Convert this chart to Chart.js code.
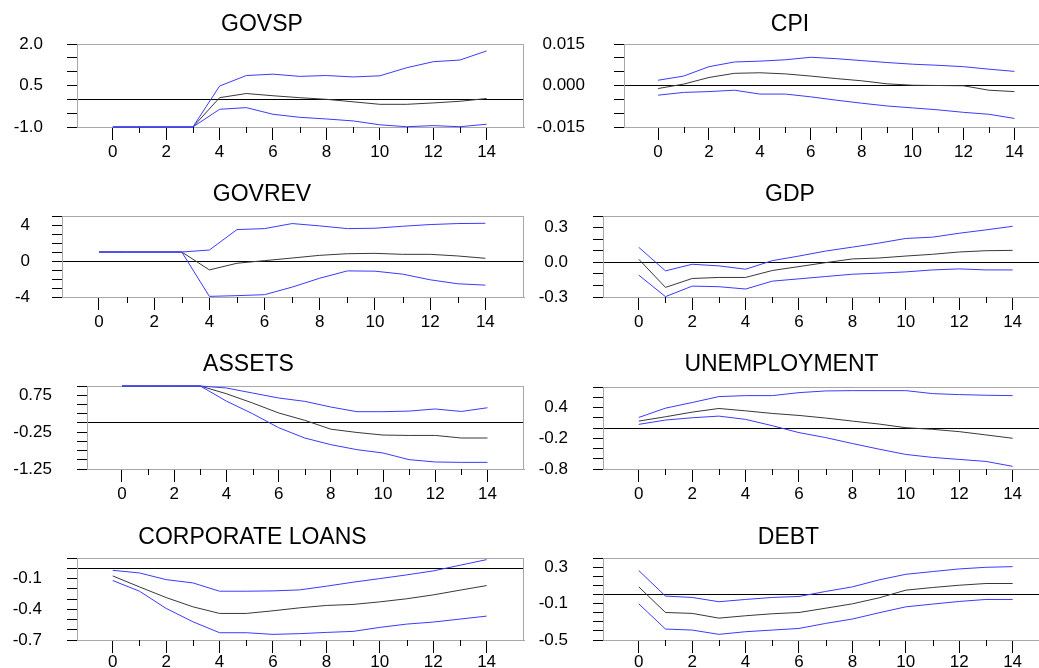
<!DOCTYPE html>
<html><head><meta charset="utf-8">
<script src="https://cdn.jsdelivr.net/npm/chart.js@4.4.1/dist/chart.umd.min.js"></script>
<style>
html,body{margin:0;padding:0;background:#fff;overflow:hidden;}
#wrap{position:relative;width:1039px;height:668px;overflow:hidden;background:#fff;}
canvas{position:absolute;}
.title{position:absolute;font-family:"Liberation Sans",Arial,sans-serif;font-size:23px;line-height:23px;color:#000;white-space:nowrap;transform:translateX(-50%);}
</style></head><body><div id="wrap"></div>
<script>
// ---------- DATA ----------
const periods = [0,1,2,3,4,5,6,7,8,9,10,11,12,13,14];
const xTickLabels = ['0','','2','','4','','6','','8','','10','','12','','14'];

const govspResp  = [-1.0,-1.0,-1.0,-1.0,0.06,0.21,0.13,0.06,0.0,-0.09,-0.18,-0.18,-0.13,-0.07,0.03];
const govspUpper = [-1.0,-1.0,-1.0,-1.0,0.48,0.86,0.91,0.83,0.86,0.81,0.85,1.14,1.36,1.42,1.75];
const govspLower = [-1.0,-1.0,-1.0,-1.0,-0.36,-0.30,-0.54,-0.65,-0.71,-0.78,-0.92,-0.99,-0.95,-0.99,-0.90];
const govspTicks = [-1.0,-0.5,0,0.5,1.0,1.5,2.0];
const govspTickLabels = ['-1.0','','','0.5','','','2.0'];

const cpiResp  = [-0.0011,0.0005,0.0029,0.0044,0.0046,0.0042,0.0034,0.0025,0.0017,0.0006,0.0001,0.0,-0.0001,-0.0017,-0.0022];
const cpiUpper = [0.0019,0.0034,0.0068,0.0085,0.0088,0.0093,0.0102,0.0097,0.0090,0.0083,0.0077,0.0073,0.0068,0.0059,0.0051];
const cpiLower = [-0.0035,-0.0025,-0.0022,-0.0017,-0.0031,-0.0031,-0.0041,-0.0053,-0.0064,-0.0074,-0.0081,-0.0088,-0.0097,-0.0104,-0.0119];
const cpiTicks = [-0.015,-0.010,-0.005,0,0.005,0.010,0.015];
const cpiTickLabels = ['-0.015','','','0.000','','','0.015'];

const govrevResp  = [1.0,1.0,1.0,1.0,-0.99,-0.25,0.04,0.33,0.63,0.81,0.85,0.74,0.74,0.56,0.30];
const govrevUpper = [1.0,1.0,1.0,1.0,1.22,3.49,3.60,4.16,3.90,3.60,3.64,3.86,4.05,4.16,4.19];
const govrevLower = [1.0,1.0,1.0,1.0,-3.93,-3.85,-3.74,-2.90,-1.91,-1.10,-1.13,-1.46,-2.09,-2.53,-2.68];
const govrevTicks = [-4,-3,-2,-1,0,1,2,3,4,5];
const govrevTickLabels = ['-4','','','','0','','','','4',''];

const gdpResp  = [0.026,-0.217,-0.140,-0.131,-0.131,-0.071,-0.037,-0.003,0.029,0.037,0.054,0.069,0.089,0.100,0.103];
const gdpUpper = [0.129,-0.074,-0.017,-0.031,-0.060,0.014,0.054,0.097,0.131,0.166,0.206,0.217,0.251,0.280,0.311];
const gdpLower = [-0.111,-0.297,-0.206,-0.211,-0.231,-0.163,-0.143,-0.123,-0.103,-0.094,-0.083,-0.066,-0.057,-0.066,-0.066];
const gdpTicks = [-0.3,-0.2,-0.1,0,0.1,0.2,0.3,0.4];
const gdpTickLabels = ['-0.3','','','0.0','','','0.3',''];

const assetsResp  = [1.0,1.0,1.0,1.0,0.79,0.54,0.27,0.07,-0.17,-0.26,-0.33,-0.34,-0.34,-0.41,-0.41];
const assetsUpper = [1.0,1.0,1.0,1.0,0.946,0.81,0.675,0.584,0.43,0.304,0.304,0.32,0.377,0.31,0.41];
const assetsLower = [1.0,1.0,1.0,1.0,0.59,0.25,-0.13,-0.41,-0.59,-0.726,-0.816,-0.997,-1.06,-1.07,-1.07];
const assetsTicks = [-1.25,-1.0,-0.75,-0.5,-0.25,0,0.25,0.5,0.75,1.0];
const assetsTickLabels = ['-1.25','','','','-0.25','','','','0.75',''];

const unempResp  = [0.135,0.219,0.310,0.381,0.335,0.284,0.245,0.194,0.135,0.077,0.006,-0.026,-0.071,-0.135,-0.200];
const unempUpper = [0.206,0.387,0.497,0.613,0.632,0.632,0.690,0.723,0.729,0.729,0.729,0.671,0.652,0.639,0.632];
const unempLower = [0.071,0.155,0.200,0.232,0.168,0.045,-0.090,-0.187,-0.303,-0.413,-0.516,-0.574,-0.613,-0.652,-0.748];
const unempTicks = [-0.8,-0.6,-0.4,-0.2,0,0.2,0.4,0.6,0.8];
const unempTickLabels = ['-0.8','','','-0.2','','','0.4','',''];

const corpResp  = [-0.075,-0.182,-0.286,-0.376,-0.441,-0.441,-0.415,-0.386,-0.363,-0.353,-0.328,-0.298,-0.260,-0.214,-0.169];
const corpUpper = [-0.020,-0.046,-0.111,-0.143,-0.224,-0.224,-0.221,-0.211,-0.175,-0.136,-0.101,-0.065,-0.026,0.029,0.084];
const corpLower = [-0.120,-0.224,-0.392,-0.522,-0.629,-0.629,-0.645,-0.638,-0.626,-0.616,-0.577,-0.545,-0.525,-0.496,-0.467];
const corpTicks = [-0.7,-0.6,-0.5,-0.4,-0.3,-0.2,-0.1,0,0.1];
const corpTickLabels = ['-0.7','','','-0.4','','','-0.1','',''];

const debtResp  = [0.083,-0.198,-0.208,-0.260,-0.234,-0.212,-0.198,-0.151,-0.103,-0.037,0.047,0.076,0.101,0.120,0.120];
const debtUpper = [0.262,-0.018,-0.033,-0.080,-0.055,-0.033,-0.022,0.033,0.083,0.160,0.221,0.251,0.280,0.298,0.305];
const debtLower = [-0.103,-0.380,-0.391,-0.438,-0.409,-0.391,-0.373,-0.318,-0.270,-0.201,-0.136,-0.106,-0.077,-0.055,-0.055];
const debtTicks = [-0.5,-0.4,-0.3,-0.2,-0.1,0,0.1,0.2,0.3,0.4];
const debtTickLabels = ['-0.5','','','','-0.1','','','','0.3',''];

const xMin = -1.34, xMax = 15.4;

// ---------- PANELS (data + layout kept separate) ----------
const panels = [
  {title:'GOVSP',  resp:govspResp,  up:govspUpper,  lo:govspLower,  ticks:govspTicks,  labels:govspTickLabels},
  {title:'CPI',    resp:cpiResp,    up:cpiUpper,    lo:cpiLower,    ticks:cpiTicks,    labels:cpiTickLabels},
  {title:'GOVREV', resp:govrevResp, up:govrevUpper, lo:govrevLower, ticks:govrevTicks, labels:govrevTickLabels},
  {title:'GDP',    resp:gdpResp,    up:gdpUpper,    lo:gdpLower,    ticks:gdpTicks,    labels:gdpTickLabels},
  {title:'ASSETS', resp:assetsResp, up:assetsUpper, lo:assetsLower, ticks:assetsTicks, labels:assetsTickLabels},
  {title:'UNEMPLOYMENT', resp:unempResp, up:unempUpper, lo:unempLower, ticks:unempTicks, labels:unempTickLabels},
  {title:'CORPORATE LOANS', resp:corpResp, up:corpUpper, lo:corpLower, ticks:corpTicks, labels:corpTickLabels},
  {title:'DEBT',   resp:debtResp,   up:debtUpper,   lo:debtLower,   ticks:debtTicks,   labels:debtTickLabels}
];
const layoutBoxes = [
  {cx:0,   L:77,  T:44,  B:127, R:524,  tx:262,   ty:12,  pad:24, xpad:2},
  {cx:530, L:624, T:44,  B:127, R:1050, tx:790,   ty:12,  pad:29, xpad:2},
  {cx:0,   L:62,  T:216, B:297, R:524,  tx:262,   ty:182, pad:22, xpad:2},
  {cx:530, L:603, T:216, B:297, R:1050, tx:790,   ty:182, pad:25, xpad:2},
  {cx:0,   L:87,  T:386, B:469, R:524,  tx:248.5, ty:352, pad:25, xpad:2},
  {cx:530, L:603, T:387, B:469, R:1050, tx:781.5, ty:352, pad:25, xpad:2},
  {cx:0,   L:77,  T:558, B:640, R:524,  tx:252.5, ty:525, pad:25, xpad:-1},
  {cx:530, L:603, T:558, B:640, R:1050, tx:788.5, ty:525, pad:25, xpad:-1}
];

Chart.defaults.font.family = '"Liberation Sans", Arial, sans-serif';
Chart.defaults.color = '#000';

const frame = {
  id:'frame',
  beforeDatasetsDraw(chart){
    const a = chart.chartArea, c = chart.ctx;
    c.save();
    c.strokeStyle = '#a8a8a8'; c.lineWidth = 1;
    c.beginPath();
    c.moveTo(a.left, a.top + 0.5); c.lineTo(a.right, a.top + 0.5);
    c.moveTo(a.right - 0.5, a.top); c.lineTo(a.right - 0.5, a.bottom);
    c.stroke();
    // short minor ticks at odd periods
    const xs = chart.scales.x;
    c.strokeStyle = '#000';
    c.beginPath();
    periods.forEach(p => {
      if (p % 2 === 1) {
        const x = Math.round(xs.getPixelForValue(p)) + 0.5;
        c.moveTo(x, a.bottom); c.lineTo(x, a.bottom + 6);
      }
    });
    c.stroke();
    c.restore();
  }
};

const wrap = document.getElementById('wrap');
panels.forEach((p, i) => {
  const b = layoutBoxes[i];
  const W = 530, H = 12 + (b.B - b.T) + 40;
  const cv = document.createElement('canvas');
  cv.width = W; cv.height = H;
  cv.style.left = b.cx + 'px'; cv.style.top = (b.T - 12) + 'px';
  cv.style.width = W + 'px'; cv.style.height = H + 'px';
  wrap.appendChild(cv);
  const t = document.createElement('div');
  t.className = 'title'; t.textContent = p.title;
  t.style.left = b.tx + 'px'; t.style.top = b.ty + 'px';
  wrap.appendChild(t);

  const toXY = arr => periods.map((x, k) => ({x: x, y: arr[k]}));
  new Chart(cv, {
    type:'line',
    data:{datasets:[
      {data:toXY(p.up), borderColor:'#3a3aff', borderWidth:1, pointRadius:0, tension:0, clip:false},
      {data:toXY(p.lo), borderColor:'#3a3aff', borderWidth:1, pointRadius:0, tension:0, clip:false},
      {data:toXY(p.resp), borderColor:'#383838', borderWidth:1, pointRadius:0, tension:0, clip:false}
    ]},
    options:{
      responsive:false, animation:false, devicePixelRatio:1,
      layout:{padding:{top:12, left:0, right:(b.cx + W) - b.R, bottom:0}},
      plugins:{legend:{display:false}, tooltip:{enabled:false}, title:{display:false}},
      scales:{
        x:{type:'linear', min:xMin, max:xMax,
           afterBuildTicks: s => { s.ticks = periods.map(v => ({value:v})); },
           afterFit: s => { s.height = 40; s.paddingLeft = 0; s.paddingRight = 0; },
           ticks:{autoSkip:false, maxRotation:0, padding:b.xpad, font:{size:17}, color:'#000',
                  callback:(v, idx) => xTickLabels[idx]},
           grid:{drawOnChartArea:false, drawTicks:true, tickLength:13, tickWidth:1,
                 tickColor: ctx => (ctx.tick && ctx.tick.value % 2 === 0) ? '#000' : 'rgba(0,0,0,0)'},
           border:{display:true, color:'#a8a8a8', width:1}
        },
        y:{type:'linear', min:p.ticks[0], max:p.ticks[p.ticks.length-1],
           afterBuildTicks: s => { s.ticks = p.ticks.map(v => ({value:v})); },
           afterFit: s => { s.width = b.L - b.cx; s.paddingTop = 0; s.paddingBottom = 0; },
           ticks:{autoSkip:false, padding:b.pad, font:{size:17}, color:'#000',
                  callback:(v, idx) => p.labels[idx]},
           grid:{drawOnChartArea:true, drawTicks:true, tickLength:10, tickWidth:1, tickColor:'#000',
                 lineWidth:1,
                 color: ctx => (ctx.tick && Math.abs(ctx.tick.value) < 1e-9) ? '#000' : 'rgba(0,0,0,0)'},
           border:{display:true, color:'#a8a8a8', width:1}
        }
      }
    },
    plugins:[frame]
  });
});
</script></body></html>
